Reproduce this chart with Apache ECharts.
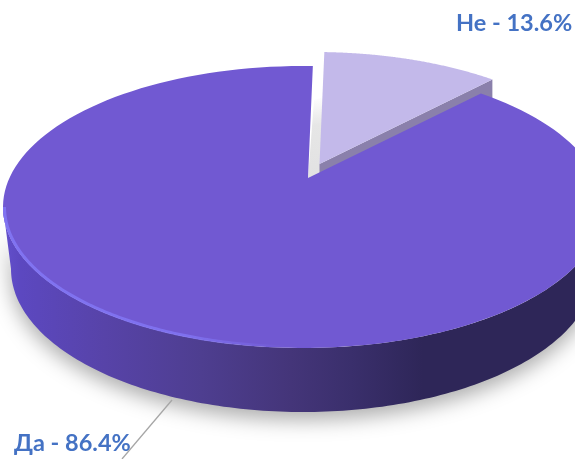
<!DOCTYPE html>
<html>

<head>
    <meta charset="utf-8">
    <style>
        html, body { margin: 0; padding: 0; background: #fff; }
    </style>
</head>

<body>
    <div id="main" style="width: 575px;height:459px;"></div>

    <script src="https://cdn.jsdelivr.net/npm/echarts@6/dist/echarts.min.js"></script>

    <script type="text/javascript">
        // data, small slice first so the big one is painted over its side
        var categories = ['Не', 'Да'];
        var shares = [13.6, 86.4];

        var myChart = echarts.init(document.getElementById('main'));

        // the tilted disc
        var top_ = { cx: 303, cy: 207, rx: 300, ry: 141 };
        var rim_ = { cx: 303, cy: 207, rx: 298.5, ry: 140 };
        var bottom_ = { cx: 303, cy: 269, rx: 292, ry: 143 };
        var apex = [308, 178];
        var startDeg = 3.3, squash = 0.57; // squash = foreshortening of the angles
        var smallShift = [11.5, -14], smallDepth = 20;

        var total = shares[0] + shares[1];

        // data angle (clockwise from 12 o'clock) -> angle on the ellipse
        function warp(deg) {
            var a = (deg + startDeg) * Math.PI / 180;
            var t = Math.atan2(squash * Math.sin(a), Math.cos(a));
            while (t < a - Math.PI) t += 2 * Math.PI;
            return t;
        }
        function onEllipse(e, t) {
            return [e.cx + e.rx * Math.sin(t), e.cy - e.ry * Math.cos(t)];
        }
        function arc(e, t0, t1) {
            var pts = [];
            for (var i = 0; i <= 160; i++) {
                pts.push(onEllipse(e, t0 + (t1 - t0) * i / 160));
            }
            return pts;
        }
        function shift(pts, dx, dy) {
            return pts.map(function (p) { return [p[0] + dx, p[1] + dy]; });
        }

        function drawSmall(from, to) {
            var t0 = warp(from), t1 = warp(to);
            var rim = shift(arc(top_, t0, t1), smallShift[0], smallShift[1]);
            var tip = [apex[0] + smallShift[0], apex[1] + smallShift[1]];
            var end = rim[rim.length - 1];
            return [
                // shadow seen in the gap
                {
                    type: 'polygon',
                    shape: { points: [[314, 100], [326, 96], [320, 173], [308, 179]] },
                    style: {
                        fill: {
                            type: 'linear', x: 0, y: 0, x2: 0, y2: 1,
                            colorStops: [
                                { offset: 0, color: '#ffffff' },
                                { offset: 0.35, color: '#e6e6e6' },
                                { offset: 1, color: '#e2e2e2' }
                            ]
                        }
                    }
                },
                {
                    type: 'polygon',
                    shape: { points: [tip, end, [end[0], end[1] + smallDepth], [tip[0], tip[1] + smallDepth]] },
                    style: { fill: '#8a80ab' }
                },
                {
                    type: 'polygon',
                    shape: { points: [tip].concat(rim) },
                    style: { fill: '#c3b9ea' }
                }
            ];
        }

        function drawBig(from, to) {
            var t0 = warp(from), t1 = warp(to);
            var wallPts = arc(top_, Math.PI / 2, Math.PI * 1.5)
                .concat(arc(bottom_, Math.PI * 1.5, Math.PI / 2));
            return [
                {
                    type: 'polygon',
                    shape: { points: wallPts },
                    style: {
                        fill: {
                            type: 'linear', x: 0, y: 0, x2: 1, y2: 0,
                            colorStops: [
                                { offset: 0, color: '#6350cc' },
                                { offset: 0.03, color: '#5c48c0' },
                                { offset: 0.17, color: '#5743a8' },
                                { offset: 0.33, color: '#4e3e90' },
                                { offset: 0.48, color: '#443579' },
                                { offset: 0.58, color: '#3a2f6c' },
                                { offset: 0.7, color: '#2e2658' },
                                { offset: 1, color: '#2e2658' }
                            ]
                        },
                        shadowBlur: 20,
                        shadowColor: 'rgba(0,0,0,0.32)',
                        shadowOffsetY: 8
                    }
                },
                {
                    type: 'polygon',
                    shape: { points: [apex].concat(arc(top_, t0, t1)) },
                    style: { fill: '#7159d2' }
                },
                // lit rim on the left of the front edge
                {
                    type: 'polyline',
                    shape: { points: arc(rim_, Math.PI * 1.02, Math.PI * 1.5) },
                    style: {
                        fill: null,
                        lineWidth: 3,
                        stroke: {
                            type: 'linear', x: 1, y: 0, x2: 0, y2: 0,
                            colorStops: [
                                { offset: 0, color: 'rgba(130,118,245,0)' },
                                { offset: 0.35, color: 'rgba(130,118,245,0.8)' },
                                { offset: 1, color: 'rgba(130,118,245,0.9)' }
                            ]
                        }
                    }
                }
            ];
        }

        function labelText(i) {
            return categories[i] + ' - ' + shares[i].toFixed(1) + '%';
        }

        var renderItem = function (params, api) {
            var i = params.dataIndex;
            var from = 0;
            for (var k = 0; k < i; k++) from += shares[k] * 360 / total;
            var to = from + api.value(0) * 360 / total;
            return {
                type: 'group',
                children: i === 0 ? drawSmall(from, to) : drawBig(from, to)
            };
        };

        var labelFont = { fontFamily: 'Lato, "Open Sans", sans-serif', fontWeight: 'bold', fontSize: 23.5, fill: '#4472c4' };

        var option = {
            animation: false,
            backgroundColor: '#ffffff',
            series: [{
                type: 'custom',
                coordinateSystem: 'none',
                silent: true,
                data: shares,
                renderItem: renderItem
            }],
            graphic: [
                {
                    type: 'text', z: 9, x: 456, y: 23,
                    style: Object.assign({ text: labelText(0), textVerticalAlign: 'middle' }, labelFont)
                },
                {
                    type: 'text', z: 9, x: 14, y: 443,
                    style: Object.assign({ text: labelText(1), textVerticalAlign: 'middle' }, labelFont)
                },
                {
                    type: 'line',
                    z: 10,
                    shape: { x1: 172, y1: 400, x2: 122, y2: 459 },
                    style: { stroke: '#a6a6a6', lineWidth: 1.3 }
                }
            ]
        };

        myChart.setOption(option);
    </script>
</body>

</html>
